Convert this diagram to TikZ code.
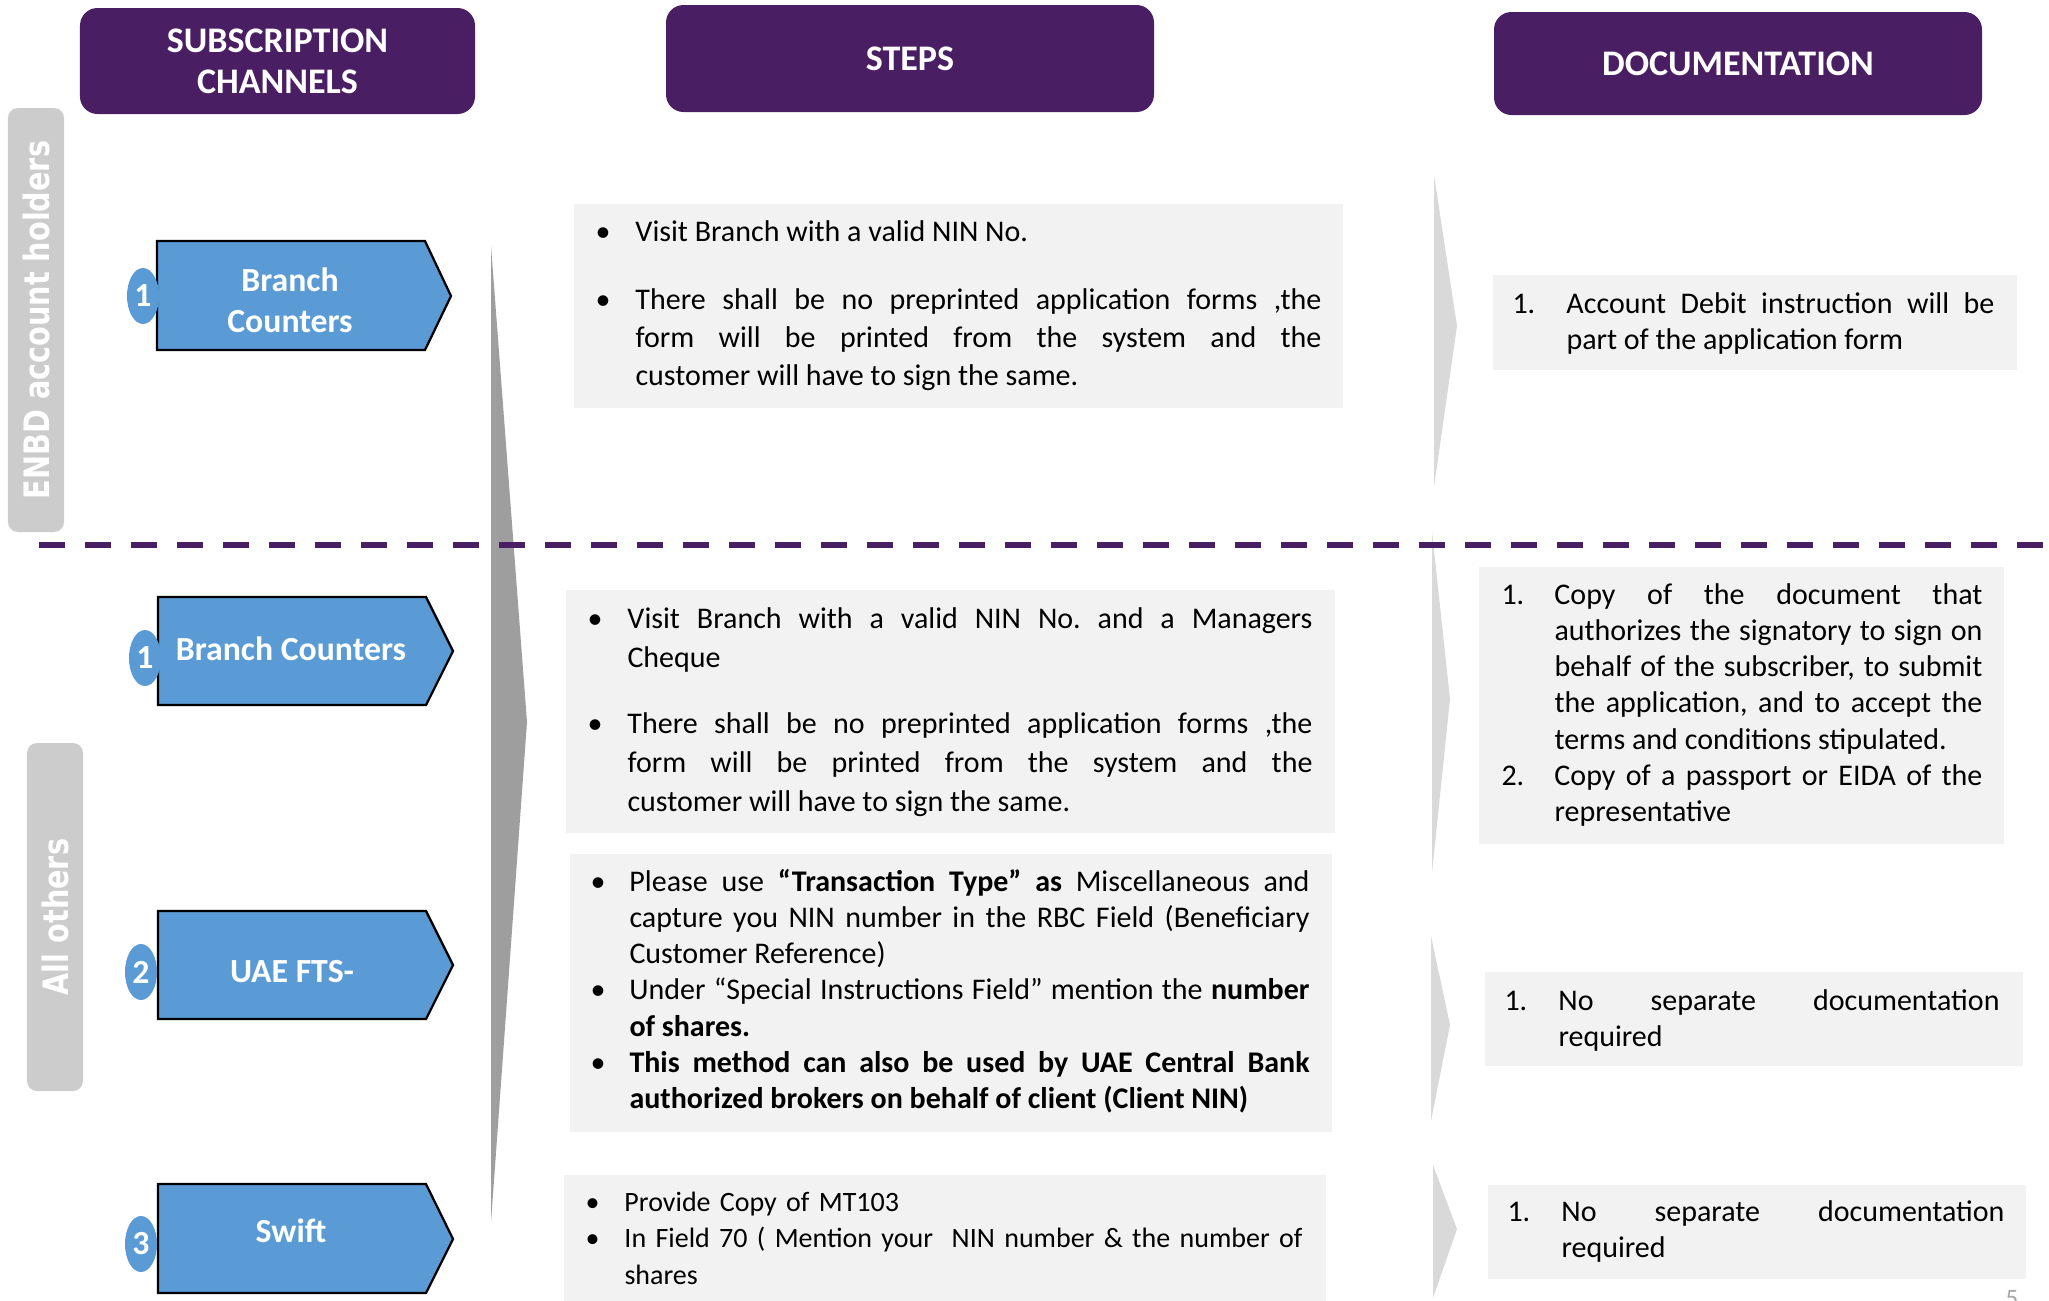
\documentclass[tikz,border=0pt]{standalone}
\usepackage{fontspec}
\setmainfont{Carlito}
\newfontfamily\sidelabelfont[FakeStretch=0.82]{DejaVu Sans}
\usetikzlibrary{shapes.geometric}

\definecolor{hdrpurple}{HTML}{4A1E62}
\definecolor{chanblue}{HTML}{5B9BD5}
\definecolor{sidegray}{HTML}{CCCCCC}
\definecolor{flowgray}{HTML}{9E9E9E}
\definecolor{docgray}{HTML}{D9D9D9}
\definecolor{panelfill}{HTML}{F2F2F2}

% a list entry with a hanging label of the given width (end it with \par)
\newcommand{\hangitem}[2]{\noindent\hangindent=#1\hangafter=1\makebox[#1][l]{#2}\ignorespaces}

\tikzset{
  hdrbox/.style={rectangle, rounded corners=7pt, fill=hdrpurple, text=white,
    font={\fontsize{14.4}{16.4}\selectfont\bfseries}, align=center, inner sep=0pt},
  sidebar/.style={rectangle, rounded corners=4pt, fill=sidegray, text=white,
    font={\sidelabelfont\fontsize{14}{16}\selectfont\bfseries}, inner sep=0pt, rotate=90},
  chanarrow/.style={fill=chanblue, draw=black, line width=0.9pt, line join=miter},
  chanlabel/.style={text=white, font={\fontsize{13.5}{16.4}\selectfont\bfseries}, align=center, inner sep=0pt},
  numdot/.style={ellipse, fill=chanblue, text=white, inner sep=0pt,
    minimum width=12.8pt, minimum height=22.4pt, font={\fontsize{13.5}{16}\selectfont\bfseries}},
  panel/.style={fill=panelfill},
  steptext/.style={anchor=base west, inner sep=0pt, align=justify},
  doctext/.style={anchor=base west, inner sep=0pt, align=justify,
    font={\fontsize{12}{14.5}\selectfont}},
}

\begin{document}
\frenchspacing
\begin{tikzpicture}[x=0.4pt, y=-0.4pt]
\tolerance=10000
\useasboundingbox[fill=white] (0,0) rectangle (2049,1301);

% column headers
\node[hdrbox, minimum width=158pt, minimum height=42.4pt] (hchan) at (277.5,61) {SUBSCRIPTION\\CHANNELS};
\node[hdrbox, minimum width=195.2pt, minimum height=42.8pt] (hsteps) at (910,58.5) {STEPS};
\node[hdrbox, minimum width=195.2pt, minimum height=41.2pt] (hdoc) at (1738,63.5) {DOCUMENTATION};

% customer groups
\node[sidebar, minimum width=169.6pt, minimum height=22.4pt] (enbd) at (36,320) {ENBD account holders};
\node[sidebar, minimum width=139.2pt, minimum height=22.4pt] (others) at (55,917) {All others};

% flow chevron between channels and steps
\fill[flowgray] (491,246) -- (527,722) -- (491,1222) -- cycle;

% chevrons in front of the documentation column
\fill[docgray] (1434,175) -- (1457,326) -- (1434,487) -- cycle;
\fill[docgray] (1432,532) -- (1450,699) -- (1432,873) -- cycle;
\fill[docgray] (1431,936) -- (1450,1025) -- (1431,1121) -- cycle;
\fill[docgray] (1433,1165) -- (1457,1229) -- (1433,1298) -- cycle;

% channel arrows
\draw[chanarrow] (157,241) -- (425,241) -- (451,296) -- (425,350) -- (157,350) -- cycle;
\draw[chanarrow] (158,597) -- (426,597) -- (453,651) -- (426,705) -- (158,705) -- cycle;
\draw[chanarrow] (158,911) -- (426,911) -- (453,965) -- (426,1019) -- (158,1019) -- cycle;
\draw[chanarrow] (158,1184) -- (426,1184) -- (453,1239) -- (426,1293) -- (158,1293) -- cycle;

\node[chanlabel] (ch1) at (290,300) {Branch\\Counters};
\node[chanlabel] (ch2) at (291,649) {Branch Counters};
\node[chanlabel] (ch3) at (292,972) {UAE FTS-};
\node[chanlabel] (ch4) at (291,1231) {Swift};

\node[numdot] (num1) at (143,296) {1};
\node[numdot] (num2) at (145,658) {1};
\node[numdot] (num3) at (141,972) {2};
\node[numdot] (num4) at (141,1244) {3};

% step panels
\fill[panel] (574,204) rectangle (1343,408);
\fill[panel] (566,590) rectangle (1335,833);
\fill[panel] (570,854) rectangle (1332,1132);
\fill[panel] (564,1175) rectangle (1326,1310);

\node[steptext, text width=290.4pt, font={\fontsize{12}{15.2}\selectfont}] (st1) at (595,241) {%
\hangitem{16pt}{\textbullet}Visit Branch with a valid NIN No.\par\vspace{12pt}%
\hangitem{16pt}{\textbullet}There shall be no preprinted application forms ,the\linebreak form will be printed from the system and the\linebreak customer will have to sign the same.\par};

\node[steptext, text width=290pt, font={\fontsize{12}{15.6}\selectfont}] (st2) at (587,628) {%
\hangitem{16pt}{\textbullet}Visit Branch with a valid NIN No. and a Managers\linebreak Cheque\par\vspace{10.8pt}%
\hangitem{16pt}{\textbullet}There shall be no preprinted application forms ,the\linebreak form will be printed from the system and the\linebreak customer will have to sign the same.\par};

\node[steptext, text width=287.6pt, font={\fontsize{12}{14.5}\selectfont}] (st3) at (590,891) {%
\hangitem{15.6pt}{\textbullet}Please use \textbf{“Transaction Type” as} Miscellaneous and\linebreak capture you NIN number in the RBC Field (Beneficiary\linebreak Customer Reference)\par
\hangitem{15.6pt}{\textbullet}Under “Special Instructions Field” mention the \textbf{number}\linebreak \textbf{of shares.}\par
\hangitem{15.6pt}{\textbullet}\textbf{This method can also be used by UAE Central Bank\linebreak authorized brokers on behalf of client (Client NIN)}\par};

\node[steptext, align=left, text width=296pt, font={\fontsize{11.2}{14.6}\selectfont}] (st4) at (585,1211) {%
\hangitem{15.6pt}{\textbullet}Provide Copy of MT103\par
\hangitem{15.6pt}{\textbullet}In Field 70 ( Mention your\ \ NIN number \& the number of\linebreak shares\par};

% documentation panels
\fill[panel] (1493,275) rectangle (2017,370);
\fill[panel] (1479,567) rectangle (2004,844);
\fill[panel] (1485,972) rectangle (2023,1066);
\fill[panel] (1488,1185) rectangle (2026,1279);

\node[doctext, text width=192.8pt] (doc1) at (1512,313) {%
\hangitem{21.6pt}{1.}Account Debit instruction will be\linebreak part of the application form\par};

\node[doctext, text width=192.4pt] (doc2) at (1501,604) {%
\hangitem{21.2pt}{1.}Copy of the document that\linebreak authorizes the signatory to sign on\linebreak behalf of the subscriber, to submit\linebreak the application, and to accept the\linebreak terms and conditions stipulated.\par
\hangitem{21.2pt}{2.}Copy of a passport or EIDA of the\linebreak representative\par};

\node[doctext, text width=198pt] (doc3) at (1504,1010) {%
\hangitem{21.6pt}{1.}No separate documentation\linebreak required\par};

\node[doctext, text width=198.8pt] (doc4) at (1507,1221) {%
\hangitem{21.6pt}{1.}No separate documentation\linebreak required\par};

% divider between the two customer groups
\draw[hdrpurple, line width=2.4pt, dash pattern=on 10.4pt off 8pt] (39,545) -- (2049,545);

% page number
\node[anchor=north, inner sep=0pt, text=gray!70, font={\fontsize{10}{12}\selectfont}] (pageno) at (2012,1290) {5};
\end{tikzpicture}
\end{document}
